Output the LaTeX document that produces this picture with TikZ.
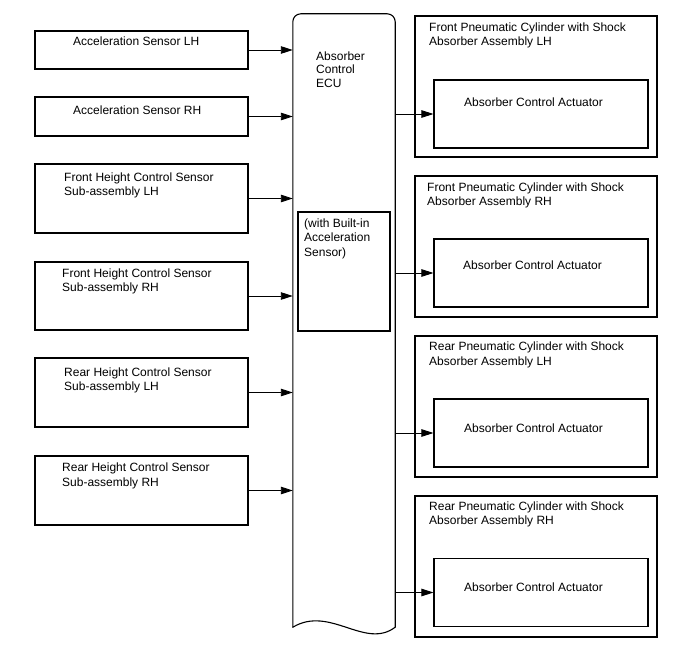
\documentclass[tikz,border=0pt]{standalone}
\usepackage{fontspec}
\setmainfont{Liberation Sans}
\usepackage{tikz}
\usetikzlibrary{arrows.meta}

\begin{document}
\begin{tikzpicture}[
    x=1pt, y=-1pt,
    every node/.style={font=\fontsize{12}{14.5}\selectfont},
    blk/.style={draw, rectangle, line width=1.1pt, inner sep=0pt},
    sens/.style={blk, minimum width=213pt},
    cyl/.style={blk, minimum width=242pt, minimum height=141pt},
    act/.style={blk, minimum width=214pt, minimum height=68pt},
    txt/.style={anchor=north west, inner sep=0pt, align=left},
    eculine/.style={line width=1.1pt, line cap=round},
    arr/.style={-{Triangle[length=12pt,width=7.5pt]}, line width=0.9pt}
]
\path[use as bounding box, fill=white] (0,0) rectangle (688,658);

% ===== Sensores (columna izquierda) =====
\node[sens, minimum height=38pt] (s1) at (141.5,50) {};
\node[txt] (s1t) at (73,36.5) {Acceleration Sensor LH};
\node[sens, minimum height=39pt] (s2) at (141.5,116.5) {};
\node[txt] (s2t) at (73,105.5) {Acceleration Sensor RH};
\node[sens, minimum height=69pt] (s3) at (141.5,198.5) {};
\node[txt] (s3t) at (64,172.5) {Front Height Control Sensor\\Sub-assembly LH};
\node[sens, minimum height=68pt] (s4) at (141.5,296) {};
\node[txt] (s4t) at (62,268.5) {Front Height Control Sensor\\Sub-assembly RH};
\node[sens, minimum height=69pt] (s5) at (141.5,392.5) {};
\node[txt] (s5t) at (64,367.5) {Rear Height Control Sensor\\Sub-assembly LH};
\node[sens, minimum height=69pt] (s6) at (141.5,490.5) {};
\node[txt] (s6t) at (62,463) {Rear Height Control Sensor\\Sub-assembly RH};

% ===== ECU (columna central) =====
\node[minimum width=102pt, minimum height=613pt, inner sep=0pt] (ecu) at (344,320.5) {};
\draw[eculine, rounded corners=8pt] (ecu.south west) -- (ecu.north west) -- (ecu.north east) -- (ecu.south east);
\draw[eculine] (ecu.south east) .. controls (365,650) and (330,605) .. (ecu.south west);
\node[txt, font=\fontsize{12}{13.7}\selectfont] (ecut) at (316,51.2) {Absorber\\Control\\ECU};
\node[blk, minimum width=92pt, minimum height=119pt] (bis) at (344,271.5) {};
\node[txt] (bist) at (304,218.2) {(with Built-in\\Acceleration\\Sensor)};

% ===== Cilindros (columna derecha) =====
\node[cyl] (cyl1) at (536,86.5) {};
\node[txt] (cyl1t) at (429,22.2) {Front Pneumatic Cylinder with Shock\\Absorber Assembly LH};
\node[act] (act1) at (541,114) {};
\node[txt] (act1t) at (464,97.2) {Absorber Control Actuator};

\node[cyl] (cyl2) at (536,246.5) {};
\node[txt] (cyl2t) at (427,182.2) {Front Pneumatic Cylinder with Shock\\Absorber Assembly RH};
\node[act] (act2) at (541,273) {};
\node[txt] (act2t) at (463,260.2) {Absorber Control Actuator};

\node[cyl] (cyl3) at (536,406.5) {};
\node[txt] (cyl3t) at (429,341.7) {Rear Pneumatic Cylinder with Shock\\Absorber Assembly LH};
\node[act] (act3) at (541,433) {};
\node[txt] (act3t) at (464,423.8) {Absorber Control Actuator};

\node[cyl] (cyl4) at (536,566.5) {};
\node[txt] (cyl4t) at (429,501.2) {Rear Pneumatic Cylinder with Shock\\Absorber Assembly RH};
\node[act] (act4) at (541,592.5) {};
\node[txt] (act4t) at (464,582.2) {Absorber Control Actuator};

% ===== Conexiones =====
\draw[arr] (s1.east) -- (s1.east -| ecu.west);
\draw[arr] (s2.east) -- (s2.east -| ecu.west);
\draw[arr] (s3.east) -- (s3.east -| ecu.west);
\draw[arr] (s4.east) -- (s4.east -| ecu.west);
\draw[arr] (s5.east) -- (s5.east -| ecu.west);
\draw[arr] (s6.east) -- (s6.east -| ecu.west);
\draw[arr] (act1.west -| ecu.east) -- (act1.west);
\draw[arr] (act2.west -| ecu.east) -- (act2.west);
\draw[arr] (act3.west -| ecu.east) -- (act3.west);
\draw[arr] (act4.west -| ecu.east) -- (act4.west);

\end{tikzpicture}
\end{document}
